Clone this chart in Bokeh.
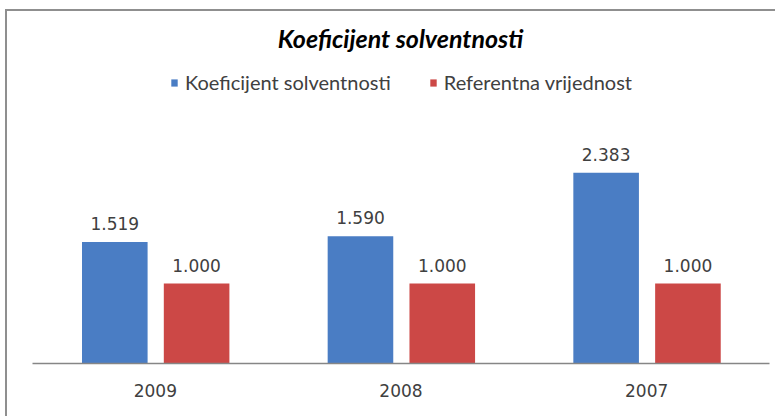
from bokeh.plotting import figure
from bokeh.models import ColumnDataSource, FactorRange, Legend, LegendItem, LabelSet, Label
from bokeh.core.properties import value
from bokeh.transform import dodge
from bokeh.embed import file_html
from bokeh.resources import INLINE

years = ["2009", "2008", "2007"]
solvency = [1.519, 1.590, 2.383]
reference = [1.000, 1.000, 1.000]
series_names = ["Koeficijent solventnosti", "Referentna vrijednost"]
title_text = "Koeficijent solventnosti"

BLUE = "#4a7dc4"
RED = "#cc4846"
TXT = "#404040"

src = ColumnDataSource(dict(
    year=years,
    solv=solvency,
    ref=reference,
    solv_lbl=["{:.3f}".format(v) for v in solvency],
    ref_lbl=["{:.3f}".format(v) for v in reference],
))

p = figure(x_range=FactorRange(*years, range_padding=0), y_range=(0, 4.4),
           width=770, height=407, output_backend="svg", toolbar_location=None,
           title=None,
           min_border_left=25, min_border_right=8, min_border_bottom=55, min_border_top=0)
p.margin = (9, 0, 0, 5)
p.styles = {"border-left": "2px solid #8f8f8f", "border-top": "2px solid #8f8f8f"}

r1 = p.vbar(x=dodge("year", -0.165, range=p.x_range), top="solv", width=0.267,
            source=src, fill_color=BLUE, line_color=None)
r2 = p.vbar(x=dodge("year", 0.168, range=p.x_range), top="ref", width=0.267,
            source=src, fill_color=RED, line_color=None)

for col, lbl, off in (("solv", "solv_lbl", -0.165), ("ref", "ref_lbl", 0.168)):
    ls = LabelSet(x=dodge("year", off, range=p.x_range), y=col, text=lbl, source=src,
                  text_align="center", text_baseline="bottom", y_offset=12,
                  text_font=value("DejaVu Sans"), text_font_size=value("17px"), text_color=TXT)
    p.add_layout(ls)

title = Label(x=368, y=326, x_units="screen", y_units="screen", text=title_text,
              text_align="center", text_baseline="middle", text_font="Lato",
              text_font_style="bold italic", text_font_size="25px", text_color="#000000")
p.add_layout(title)

legend = Legend(items=[LegendItem(label=series_names[0], renderers=[r1]),
                       LegendItem(label=series_names[1], renderers=[r2])],
                orientation="horizontal", location=(138, 269),
                label_text_font="Lato", label_text_font_size="20px", label_text_color=TXT,
                glyph_width=8, glyph_height=9, label_standoff=7, spacing=38,
                padding=2, margin=0, border_line_color=None, background_fill_alpha=0)
p.add_layout(legend, "center")

p.yaxis.visible = False
p.xgrid.grid_line_color = None
p.ygrid.grid_line_color = None
p.outline_line_color = None
p.xaxis.axis_line_color = "#868686"
p.xaxis.axis_line_width = 1.5
p.xaxis.major_tick_line_color = None
p.xaxis.minor_tick_line_color = None
p.xaxis.major_label_text_font = "DejaVu Sans"
p.xaxis.major_label_text_font_size = "17px"
p.xaxis.major_label_text_color = TXT
p.xaxis.major_label_standoff = 14

open("out.html", "w").write(file_html(p, INLINE))
